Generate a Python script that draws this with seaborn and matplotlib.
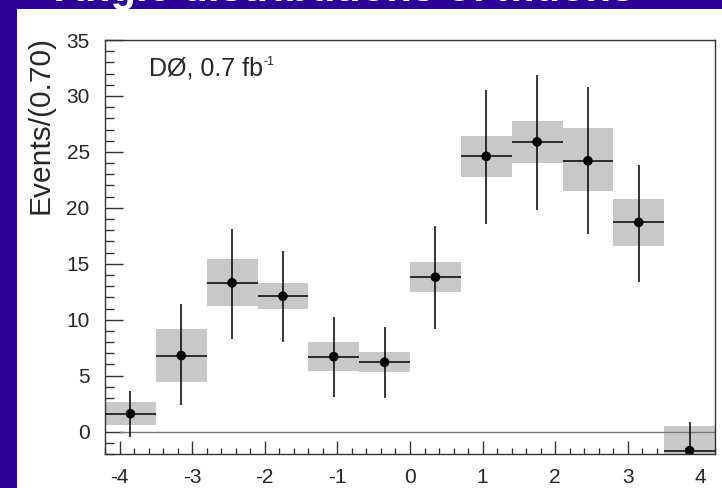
import numpy as np
import pandas as pd
import seaborn as sns
import matplotlib
matplotlib.use("Agg")
import matplotlib.pyplot as plt
from matplotlib.patches import Rectangle
from matplotlib.ticker import MultipleLocator

# bin centres (bin width 0.7) and values
bin_centers = [-3.85, -3.15, -2.45, -1.75, -1.05, -0.35, 0.35, 1.05, 1.75, 2.45, 3.15, 3.85]
events = [1.6, 6.8, 13.3, 12.1, 6.7, 6.2, 13.8, 24.6, 25.9, 24.2, 18.7, -1.7]
# systematic band (grey boxes)
syst_lo = [0.6, 4.4, 11.2, 11.0, 5.4, 5.3, 12.5, 22.8, 24.0, 21.5, 16.6, -3.8]
syst_hi = [2.65, 9.2, 15.45, 13.3, 8.0, 7.1, 15.2, 26.4, 27.8, 27.1, 20.8, 0.5]
# statistical error bars
stat_lo = [-0.5, 2.35, 8.3, 8.0, 3.1, 3.0, 9.2, 18.6, 19.8, 17.7, 13.4, -4.3]
stat_hi = [3.65, 11.4, 18.15, 16.1, 10.25, 9.35, 18.4, 30.55, 31.9, 30.8, 23.85, 0.9]
bin_width = 0.7

df = pd.DataFrame({"x": bin_centers, "y": events,
                   "slo": syst_lo, "shi": syst_hi,
                   "elo": stat_lo, "ehi": stat_hi})

sns.set_style("ticks")
plt.rcParams["font.family"] = ["Liberation Sans", "DejaVu Sans"]
plt.rcParams["axes.unicode_minus"] = False

blue = "#2b0096"
fig = plt.figure(figsize=(7.22, 4.88), dpi=100)
fig.patch.set_facecolor(blue)
# white slide panel (behind the axes)
fig.patches.append(Rectangle((17 / 722, 0), 1, 479 / 488, transform=fig.transFigure,
                             facecolor="white", edgecolor="none", zorder=-10))
# slide title, almost entirely cut off at the top (only letter bottoms show)
fig.text(345 / 722, 486.5 / 488, "Angle distributions of muons", color="white",
         fontsize=30, fontweight="bold", ha="center", va="baseline", zorder=-5)

ax = fig.add_axes([105 / 722, 34 / 488, 610 / 722, 414 / 488])
ax.set_facecolor("white")

# grey systematic boxes
ax.bar(df["x"], df["shi"] - df["slo"], bottom=df["slo"], width=bin_width,
       color="#c8c8c8", edgecolor="none", zorder=1)
# zero line
ax.plot([-4.0, 4.2], [0, 0], color="#777777", lw=1.0, zorder=2)
# stat error bars + bin width
ax.errorbar(df["x"], df["y"], xerr=bin_width / 2,
            yerr=[df["y"] - df["elo"], df["ehi"] - df["y"]],
            fmt="none", ecolor="black", elinewidth=1.1, capsize=0, zorder=3)
sns.scatterplot(data=df, x="x", y="y", ax=ax, color="black", s=48,
                edgecolor="none", zorder=4, legend=False)

ax.set_xlim(-4.2, 4.2)
ax.set_ylim(-2, 35)
ax.set_xlabel("")
ax.set_ylabel("Events/(0.70)", fontsize=21.5)
ax.yaxis.set_label_coords(-0.105, 0.795)
ax.yaxis.label.set_va("center")

ax.xaxis.set_major_locator(MultipleLocator(1))
ax.xaxis.set_minor_locator(MultipleLocator(0.2))
ax.yaxis.set_major_locator(MultipleLocator(5))
ax.yaxis.set_minor_locator(MultipleLocator(1))
ax.tick_params(axis="x", which="major", direction="in", length=9.5, width=1,
               labelsize=15, pad=10, color="#333333")
ax.tick_params(axis="x", which="minor", direction="in", length=4.5, width=1,
               color="#333333")
ax.tick_params(axis="y", which="major", direction="in", length=13, width=1,
               labelsize=15, pad=11, color="#333333")
ax.tick_params(axis="y", which="minor", direction="in", length=6.5, width=1,
               color="#333333")

for s in ax.spines.values():
    s.set_color("#333333")
    s.set_linewidth(1.0)

# "DØ, 0.7 fb^-1" with a small superscript, ROOT style
lab = ax.text(0.072, 0.93, "DØ, 0.7 fb", transform=ax.transAxes, fontsize=18,
              ha="left", va="center")
fig.canvas.draw()
bb = lab.get_window_extent()
ax.text(bb.x1 + 0.5, bb.y1 - 5, "-1", transform=None, fontsize=9,
        ha="left", va="center")

fig.savefig("out.png", dpi=100, facecolor=fig.get_facecolor())
